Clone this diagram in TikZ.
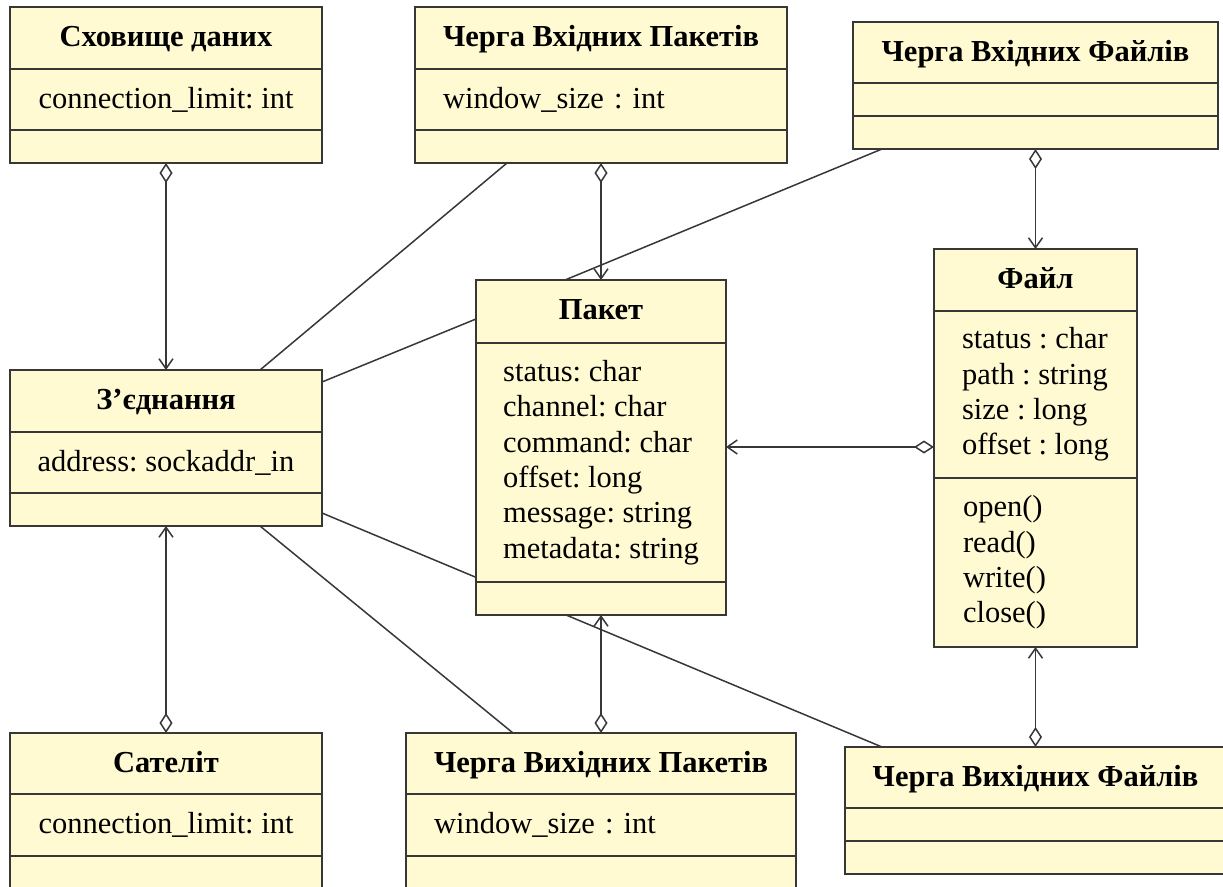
\documentclass[tikz,border=0pt]{standalone}
\usepackage{fontspec}
\setmainfont{Liberation Serif}
\frenchspacing
\usetikzlibrary{positioning}
\usetikzlibrary{arrows.meta}
\usetikzlibrary{backgrounds}
\definecolor{classfill}{RGB}{255,250,210}
\definecolor{edgegray}{RGB}{55,55,55}

\begin{document}
\begin{tikzpicture}[x=1pt, y=-1pt,
  box/.style={draw=edgegray, fill=classfill, line width=1.6pt, inner sep=0pt, outer sep=0pt, font=\fontsize{30.5}{35.4}\selectfont},
  head/.style={box, minimum height=62pt, text depth=4pt, font=\fontsize{30.5}{35.4}\selectfont\bfseries},
  field/.style={box, minimum height=61pt},
  blank/.style={box, minimum height=33pt},
  agg/.style={{Diamond[open,length=20pt,width=13pt]}-{Straight Barb[length=10pt,width=14pt]}, line width=1.5pt, draw=edgegray},
  link/.style={line width=1.5pt, draw=edgegray}]
  \useasboundingbox (0,0) rectangle (1223,886);

  % top row
  \node[head, minimum width=312pt, anchor=north west] (storeT) at (10,7) {Сховище даних};
  \node[field, minimum width=312pt] (storeA) [below=0pt of storeT] {connection\_limit: int};
  \node[blank, minimum width=312pt] (storeE) [below=0pt of storeA] {};

  \node[head, minimum width=372pt, anchor=north west] (inpqT) at (415,7) {Черга Вхідних Пакетів};
  \node[field, text width=316pt, inner xsep=28pt, align=left] (inpqA) [below=0pt of inpqT] {window\_size : int};
  \node[blank, minimum width=372pt] (inpqE) [below=0pt of inpqA] {};

  \node[head, minimum width=365pt, minimum height=61pt, anchor=north west] (infqT) at (853,22) {Черга Вхідних Файлів};
  \node[blank, minimum width=365pt] (infqA) [below=0pt of infqT] {};
  \node[blank, minimum width=365pt] (infqE) [below=0pt of infqA] {};

  % middle row
  \node[head, minimum width=312pt, anchor=north west] (connT) at (10,370) {З’єднання};
  \node[field, minimum width=312pt] (connA) [below=0pt of connT] {address: sockaddr\_in};
  \node[blank, minimum width=312pt] (connE) [below=0pt of connA] {};

  \node[head, minimum width=250pt, minimum height=63pt, anchor=north west] (pktT) at (476,280) {Пакет};
  \node[box, minimum width=250pt, minimum height=239pt, align=left] (pktA) [below=0pt of pktT]
    {status: char\\channel: char\\command: char\\offset: long\\message: string\\metadata: string};
  \node[blank, minimum width=250pt] (pktE) [below=0pt of pktA] {};

  \node[head, minimum width=203pt, anchor=north west] (fileT) at (934,249) {Файл};
  \node[box, minimum width=203pt, minimum height=167pt, align=left] (fileA) [below=0pt of fileT]
    {status : char\\path : string\\size : long\\offset : long};
  \node[box, text width=145pt, inner xsep=29pt, minimum height=169pt, align=left] (fileM) [below=0pt of fileA]
    {open()\\read()\\write()\\close()};

  % bottom row
  \node[head, minimum width=312pt, minimum height=61pt, anchor=north west] (satT) at (10,733) {Сателіт};
  \node[field, minimum width=312pt, minimum height=62pt] (satA) [below=0pt of satT] {connection\_limit: int};
  \node[blank, minimum width=312pt] (satE) [below=0pt of satA] {};

  \node[head, minimum width=390pt, minimum height=61pt, anchor=north west] (outpqT) at (406,733) {Черга Вихідних Пакетів};
  \node[field, text width=334pt, inner xsep=28pt, align=left, minimum height=62pt] (outpqA) [below=0pt of outpqT] {window\_size : int};
  \node[blank, minimum width=390pt] (outpqE) [below=0pt of outpqA] {};

  \node[head, minimum width=381pt, minimum height=61pt, anchor=north west] (outfqT) at (845,747) {Черга Вихідних Файлів};
  \node[blank, minimum width=381pt] (outfqA) [below=0pt of outfqT] {};
  \node[blank, minimum width=381pt] (outfqE) [below=0pt of outfqA] {};

  \coordinate (fileport) at ([yshift=-52.5pt]fileA.west);

  \begin{scope}[on background layer]
    % aggregations
    \draw[agg] (storeE.south) -- (connT.north);
    \draw[agg] (inpqE.south) -- (pktT.north);
    \draw[agg] (infqE.south) -- (fileT.north);
    \draw[agg] (fileport) -- (fileport -| pktA.east);
    \draw[agg] (satT.north) -- (connE.south);
    \draw[agg] (outpqT.north) -- (pktE.south);
    \draw[agg] (outfqT.north) -- (fileM.south);
    % plain associations
    \draw[link] ([xshift=94pt]connT.north) -- ([xshift=-94pt]inpqE.south);
    \draw[link] ([yshift=19pt]connT.east) -- ([yshift=-7.5pt]pktT.west);
    \draw[link] ([xshift=-153.5pt]infqE.south) -- ([xshift=-36pt]pktT.north);
    \draw[link] ([xshift=94pt]connE.south) -- ([xshift=-88pt]outpqT.north);
    \draw[link] ([yshift=-3.5pt]connE.east) -- ([xshift=-153.5pt]outfqT.north);
  \end{scope}
\end{tikzpicture}
\end{document}
